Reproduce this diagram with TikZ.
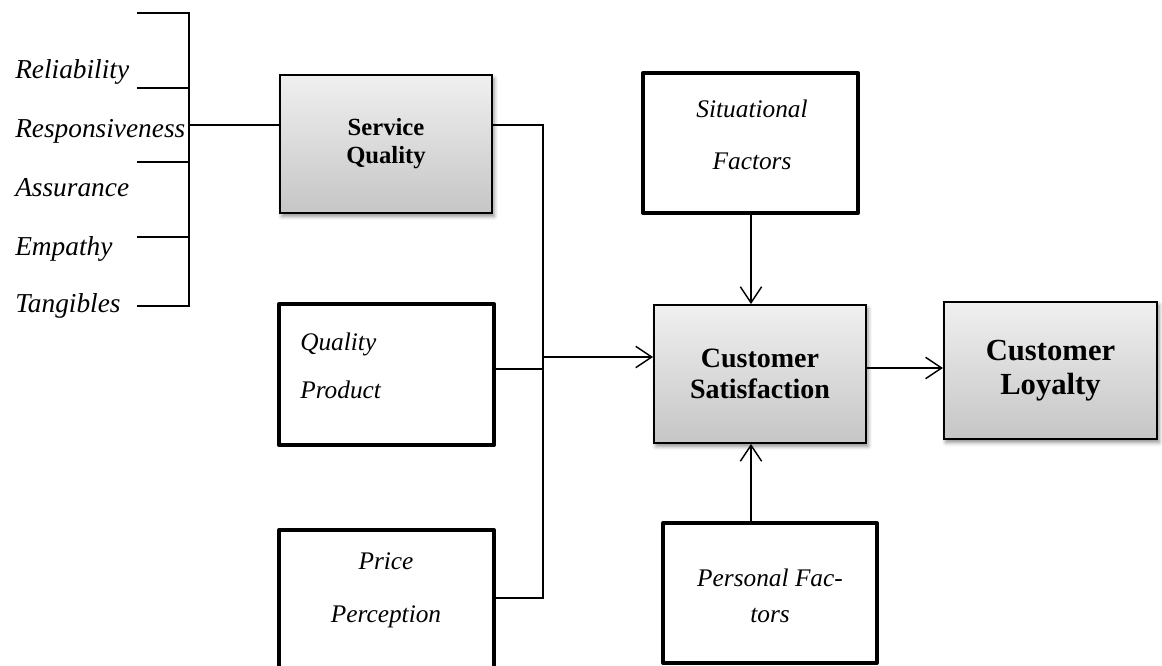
\documentclass[tikz,border=0pt]{standalone}
\usepackage{fontspec}
\setmainfont{Liberation Serif}
\usetikzlibrary{arrows.meta,shadows.blur,calc}

\begin{document}
\begin{tikzpicture}[x=0.75pt,y=-0.75pt,
  conn/.style={line width=1.1pt},
  arr/.style={conn,-{Straight Barb[length=12pt,width=16pt,line width=1.1pt]}},
  graybox/.style={draw, line width=1.4pt, top color=gray!12, bottom color=gray!45,
    blur shadow={shadow xshift=1.5pt, shadow yshift=-2.5pt, shadow blur radius=3pt, shadow opacity=45},
    inner sep=0pt, align=center, minimum width=159pt, minimum height=103.5pt},
  openbox/.style={draw, line width=3pt, line join=round, fill=white, inner sep=0pt,
    minimum width=161pt},
  dim/.style={font=\itshape\fontsize{20.5}{24}\selectfont, inner sep=0pt, anchor=base west},
]
\useasboundingbox (0,0) rectangle (1162,666);

% dimensions of service quality
\node[dim] (rel) at (15,79)  {Reliability};
\node[dim] (res) at (15,138) {Responsiveness};
\node[dim] (ass) at (15,197) {Assurance};
\node[dim] (emp) at (15,256) {Empathy};
\node[dim] (tan) at (15,312) {Tangibles};

% bracket gathering the dimensions
\coordinate (bt) at (189,13);
\coordinate (bb) at (189,306);
\coordinate (bm) at (189,125);
\draw[conn] (137,13) -- (bt) -- (bb) -- (137,306);
\draw[conn] (137,88)  -- (189,88);
\draw[conn] (137,162) -- (189,162);
\draw[conn] (137,237) -- (189,237);

% boxes
\node[graybox, font=\bfseries\fontsize{18.5}{21}\selectfont] (sq) at (386,144) {Service\\Quality};
\node[graybox, font=\bfseries\fontsize{21}{23}\selectfont] (cs) at (760,374) {Customer\\Satisfaction};
\node[graybox, font=\bfseries\fontsize{23}{25}\selectfont, minimum width=160pt, minimum height=103pt] (cl) at (1050.5,370.5) {Customer\\Loyalty};

\node[openbox, minimum height=106pt] (qp) at (386.5,374.5) {};
\node[openbox, minimum height=105pt] (pp) at (386.5,600) {};
\node[openbox, minimum height=105pt, minimum width=161pt] (sf) at (750.5,143) {};
\node[openbox, minimum height=105pt, minimum width=160pt] (pf) at (770,593) {};

% box texts
\node[inner sep=0pt, align=left, anchor=west, font=\itshape\fontsize{19}{36}\selectfont] (qpt) at (300,366) {Quality\\Product};
\node[inner sep=0pt, align=center, font=\itshape\fontsize{19}{40}\selectfont] (ppt) at (386,590) {Price\\Perception};
\node[inner sep=0pt, align=center, font=\itshape\fontsize{19}{39}\selectfont] (sft) at (752,135) {Situational\\Factors};
\node[inner sep=0pt, align=center, font=\itshape\fontsize{19}{27}\selectfont] (pft) at (770,596) {Personal Fac-\\tors};

% junction of the three antecedents
\coordinate (jt) at (543,125);
\coordinate (jq) at (543,369);
\coordinate (ja) at (543,357);
\coordinate (jb) at (543,598);

\draw[conn] (bm) -- (bm -| sq.west);
\draw[conn] (sq.east |- jt) -- (jt) -- (jb) -- (pp.east |- jb);
\draw[conn] (qp.east |- jq) -- (jq);
\draw[arr] (ja) -- (ja -| cs.west);

% arrows into and out of satisfaction
\coordinate (vx) at (751,0);
\draw[arr] (sf.south -| vx) -- (cs.north -| vx);
\draw[arr] (pf.north -| vx) -- (cs.south -| vx);
\coordinate (hy) at (0,368);
\draw[arr] (cs.east |- hy) -- (cl.west |- hy);
\end{tikzpicture}
\end{document}
